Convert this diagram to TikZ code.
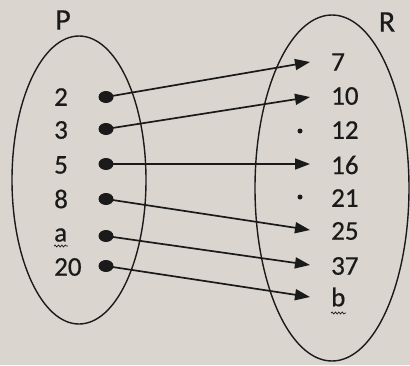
\documentclass[tikz,border=0pt]{standalone}
\usepackage{fontspec}
\setmainfont{Carlito}
\newfontfamily\inkfont{Carlito}[FakeBold=0.6]
\usetikzlibrary{arrows.meta,decorations.pathmorphing,shapes.geometric}
\definecolor{paper}{HTML}{DAD6CF}
\definecolor{ink}{HTML}{1A1A1A}
\begin{document}
\begin{tikzpicture}[x=1pt,y=-1pt,
  lbl/.style={anchor=west,inner sep=0pt,font=\inkfont\fontsize{27}{29}\selectfont,text=ink},
  setname/.style={inner sep=0pt,font=\inkfont\fontsize{30}{32}\selectfont,text=ink},
  bigdot/.style={ellipse,minimum width=15pt,minimum height=12pt,inner sep=0pt,fill=ink},
  smalldot/.style={circle,minimum size=5pt,inner sep=0pt,fill=ink},
  arr/.style={draw=ink,line width=1.7pt,-{Triangle[length=15pt,width=11pt]}},
  wavy/.style={draw=ink,line width=0.7pt,decorate,decoration={snake,amplitude=1pt,segment length=3.4pt}},
  setline/.style={draw=ink,line width=1.4pt}]
\fill[paper] (0,0) rectangle (410,365);
\useasboundingbox (0,0) rectangle (410,365);
% ellipses
\draw[setline] (79,180) ellipse [x radius=67pt, y radius=144pt];
\draw[setline] (332,188) ellipse [x radius=77pt, y radius=173pt];
\node[setname] (P) at (63,20) {P};
\node[setname] (R) at (387,22) {R};
% left labels
\node[lbl] (l2) at (54,97) {2};
\node[lbl] (l3) at (54,130) {3};
\node[lbl] (l5) at (54,165) {5};
\node[lbl] (l8) at (54,199) {8};
\node[lbl] (la) at (54,235) {a};
\node[lbl] (l20) at (54,267) {20};
\draw[wavy] (54,246) -- (68,246);
% left dots
\node[bigdot] (d2) at (106,97) {};
\node[bigdot] (d3) at (106,129) {};
\node[bigdot] (d5) at (106,164) {};
\node[bigdot] (d8) at (106,199) {};
\node[bigdot] (da) at (106,236) {};
\node[bigdot] (d20) at (106,266) {};
% right labels
\node[lbl] (r7) at (331,62) {7};
\node[lbl] (r10) at (331,96) {10};
\node[lbl] (r12) at (331,130) {12};
\node[lbl] (r16) at (331,165) {16};
\node[lbl] (r21) at (331,198) {21};
\node[lbl] (r25) at (331,231) {25};
\node[lbl] (r37) at (331,266) {37};
\node[lbl] (rb) at (331,297) {b};
\draw[wavy] (331,313) -- (346,313);
\node[smalldot] (s12) at (300,131) {};
\node[smalldot] (s21) at (300,197) {};
% arrow targets
\coordinate (t7) at (310,62);
\coordinate (t10) at (310,97);
\coordinate (t16) at (310,164);
\coordinate (t25) at (310,230);
\coordinate (t37) at (310,265);
\coordinate (tb) at (310,297);
\draw[arr] (d2.center) -- (t7);
\draw[arr] (d3.center) -- (t10);
\draw[arr] (d5.center) -- (t16);
\draw[arr] (d8.center) -- (t25);
\draw[arr] (da.center) -- (t37);
\draw[arr] (d20.center) -- (tb);
\end{tikzpicture}
\end{document}
